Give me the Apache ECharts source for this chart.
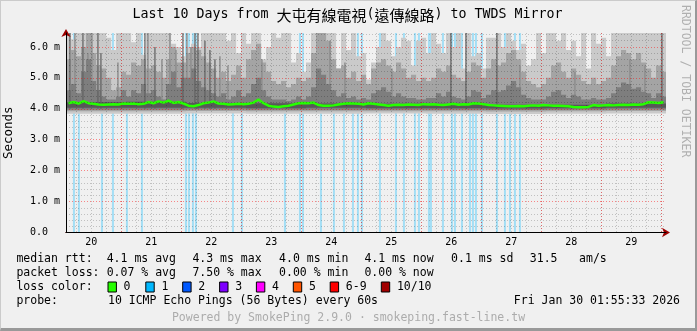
<!DOCTYPE html>
<html><head><meta charset="utf-8">
<script src="https://cdn.jsdelivr.net/npm/echarts@6/dist/echarts.min.js"></script>
<style>
html,body{margin:0;padding:0;background:#f0f0f0;}
#wrap{position:relative;width:697px;height:331px;box-sizing:border-box;background:#f0f0f0;border-top:1px solid #cbcbcb;border-left:1px solid #cbcbcb;border-right:2px solid #999;border-bottom:3px solid #999;overflow:hidden;}
#chart{position:absolute;left:-1px;top:-1px;width:697px;height:331px;}
</style></head><body><div id="wrap"><div id="chart"></div></div>
<script>
// ---- time base: hours since 2026-01-20 00:00, graph starts Jan 20 01:55:33 ----
const START_HOUR = 1 + 55/60 + 33/3600;
const SPAN_HOURS = 240;
const BIN_HOURS = 2;

const dayLabels = ['20','21','22','23','24','25','26','27','28','29'];
const dayLabelHours = [12,36,60,84,108,132,156,180,204,228];

// median rtt (ms) per 2h bin
const medianRtt = [
 4.18,4.22,4.17,4.25,4.18,4.16,4.14,4.13,4.14,4.15,4.14,4.17,
 4.16,4.17,4.15,4.16,4.22,4.18,4.24,4.20,4.26,4.19,4.22,4.17,
 4.10,4.08,4.12,4.18,4.20,4.24,4.17,4.16,4.14,4.15,4.16,4.15,
 4.16,4.20,4.30,4.18,4.10,4.07,4.06,4.08,4.10,4.14,4.18,4.19,
 4.18,4.20,4.12,4.10,4.10,4.11,4.14,4.16,4.18,4.17,4.16,4.14,
 4.18,4.16,4.14,4.12,4.10,4.12,4.13,4.12,4.14,4.13,4.12,4.15,
 4.14,4.15,4.13,4.12,4.14,4.16,4.13,4.15,4.14,4.18,4.17,4.15,
 4.12,4.11,4.10,4.09,4.08,4.08,4.09,4.08,4.10,4.11,4.10,4.12,
 4.11,4.10,4.10,4.09,4.08,4.06,4.05,4.05,4.06,4.12,4.10,4.11,
 4.12,4.11,4.12,4.13,4.12,4.14,4.13,4.15,4.21,4.20,4.19,4.21];

// smoke: max ping (ping 10) per bin
const smokeTop1 = [
 6.45,6.25,6.45,6.45,6.45,6.45,6.45,6.45,6.3,5.9,6.45,6.45,
 6.45,6.15,6.45,5.75,6.45,6.45,6.45,6.45,6.45,6.1,6.0,5.7,
 6.0,6.1,6.0,6.45,6.45,6.45,6.45,6.45,6.2,6.45,5.8,6.45,
 6.1,6.45,6.45,5.6,6.0,6.45,6.3,6.45,6.45,5.5,5.8,5.2,
 5.5,6.45,6.45,6.45,6.45,6.45,5.3,6.45,5.9,6.45,5.7,5.8,
 4.95,5.5,6.0,6.45,6.2,5.7,6.0,6.3,6.2,5.4,6.2,6.3,
 5.8,6.45,6.1,5.8,6.45,6.0,6.45,5.3,6.45,5.7,5.8,5.3,
 6.3,6.3,6.45,6.0,6.45,6.2,5.9,6.1,5.4,5.6,6.45,5.8,
 6.45,6.45,6.2,6.45,5.9,6.2,5.7,6.45,5.3,6.45,6.1,6.3,
 5.7,6.45,6.45,6.45,6.45,6.45,6.45,6.45,6.45,6.45,6.45,6.45];
// ping 9
const smokeTop2 = [
 5.6,5.9,5.7,6.0,6.45,5.8,5.4,5.3,5.0,4.6,4.7,5.2,
 5.1,5.5,5.4,5.6,5.3,5.4,5.2,5.0,5.6,6.0,5.5,5.5,
 5.8,6.0,5.9,5.7,5.5,5.3,5.0,5.2,4.9,5.1,5.4,5.0,
 5.6,5.9,6.1,5.5,5.2,4.9,4.8,4.9,4.7,4.8,5.0,4.9,
 5.0,5.8,6.45,6.45,6.2,5.6,5.3,5.4,5.0,5.2,4.9,5.1,
 4.8,5.3,5.5,5.6,5.4,5.2,5.5,5.3,5.0,5.1,4.9,5.0,
 4.9,5.0,5.3,5.2,5.4,5.1,5.0,4.9,5.2,5.5,5.4,5.0,
 5.3,5.6,5.4,5.5,5.8,5.9,5.6,5.2,4.9,4.8,4.7,4.8,
 5.0,5.4,5.5,5.2,5.0,5.3,5.1,4.9,4.8,5.0,4.8,4.9,
 5.0,5.4,5.7,5.9,5.8,5.6,5.8,5.5,5.3,5.0,5.4,5.2];
// ping 8
const smokeTop3 = [
 4.6,4.8,4.5,5.2,5.6,4.9,4.6,4.4,4.3,4.3,4.4,4.6,
 4.4,4.6,4.5,4.8,4.5,4.6,4.4,4.3,4.8,5.2,4.7,5.0,
 5.0,5.3,4.9,4.7,4.6,4.5,4.4,4.5,4.3,4.4,4.6,4.4,
 4.5,4.8,5.0,4.6,4.4,4.3,4.3,4.3,4.25,4.3,4.4,4.3,
 4.4,4.7,5.3,5.1,4.8,4.6,4.4,4.5,4.35,4.4,4.3,4.35,
 4.3,4.5,4.6,4.7,4.55,4.4,4.5,4.4,4.35,4.35,4.3,4.3,
 4.35,4.35,4.5,4.4,4.55,4.4,4.35,4.3,4.4,4.6,4.55,4.35,
 4.45,4.6,4.55,4.6,4.75,4.9,4.7,4.45,4.35,4.3,4.3,4.3,
 4.4,4.55,4.6,4.45,4.35,4.45,4.4,4.3,4.3,4.35,4.3,4.3,
 4.35,4.5,4.7,4.85,4.8,4.65,4.7,4.55,4.5,4.35,4.5,4.4];
// per-day (24h from start) lower pings and inner band
const smokeBottom1Daily = [3.84,3.84,3.85,3.84,3.84,3.85,3.84,3.83,3.84,3.85];
const smokeBottom2Daily = [3.92,3.92,3.93,3.92,3.92,3.92,3.92,3.91,3.92,3.93];
const smokeBottom3Daily = [3.97,3.97,3.98,3.97,3.97,3.97,3.97,3.96,3.97,3.98];
const smokeBottom4Daily = [4.03,4.03,4.03,4.02,4.03,4.02,4.02,4.01,4.02,4.03];
const smokeTop4Daily    = [4.21,4.23,4.19,4.18,4.17,4.16,4.16,4.13,4.13,4.17];

// narrow dark smoke spikes (hour, top ms)
const spikeHours = [3.5,8.7,14.7,15.9,33.5,37.5,48.7,53.5,54.7,57.5,59.5,61.5,155.9,161.9,174.3,240.3];
const spikeTops  = [6.45,6.45,6.45,5.8,6.45,6.0,6.45,6.45,6.45,6.2,5.9,5.6,6.45,6.45,6.45,6.45];
// narrow medium-grey smoke spikes
const spike2Hours = [5.5,10.7,12.3,22.7,34.7,40.3,43.5,45.9,50.3,51.9,63.5,66.7,80.3,107.5,113.5,132.3,183.5,205.5,227.5,233.5];
const spike2Tops  = [6.45,5.8,6.45,5.5,6.45,5.6,6.45,5.9,6.45,6.0,5.7,5.4,5.6,6.2,5.5,5.3,5.4,5.2,5.6,5.4];

// times with 1/10 packet loss (hours)
const lossHours = [5.1,7.1,16.3,20.7,26.3,32.3,49.9,51.1,52.7,53.9,68.7,72.3,89.5,95.5,96.7,
 103.9,109.1,113.1,116.7,118.7,120.3,127.5,133.9,137.1,141.5,143.1,147.1,147.9,152.7,156.3,
 157.5,160.3,163.5,164.7,165.9,168.3,174.3,177.5,179.5,181.5,183.5];

const Y_MAX = 6.45;
const lossColors = ['#26ff00','#00b8ff','#0059ff','#7e00ff','#ff00ff','#ff5500','#ff0000','#a10000'];
const lossNames = ['0','1','2','3','4','5','6-9','10/10'];

const MONO = 'DejaVu Sans Mono';
const binStart = i => START_HOUR + i * BIN_HOURS;
const dayOf = i => Math.min(9, Math.floor(i * BIN_HOURS / 24));

function rectSeries(data, color, z) {
  return {
    type: 'custom', z, silent: true, clip: true, animation: false,
    xAxisIndex: 0, yAxisIndex: 0,
    encode: { x: [0, 1], y: [2, 3] },
    data,
    renderItem: (p, api) => {
      const a = api.coord([api.value(0), api.value(3)]);
      const b = api.coord([api.value(1), api.value(2)]);
      return { type: 'rect', shape: { x: a[0], y: a[1], width: b[0] - a[0], height: b[1] - a[1] }, style: { fill: color } };
    }
  };
}
function band(lowOf, highOf, n, color, z) {
  const d = [];
  for (let i = 0; i < n; i++) d.push([binStart(i), binStart(i + 1) + 0.05, lowOf(i), highOf(i)]);
  return rectSeries(d, color, z);
}
const N = medianRtt.length;

const series = [
  rectSeries(lossHours.map(h => [h - 0.4, h + 0.4, 0, Y_MAX]), '#a3def5', 1),
  band(i => smokeBottom1Daily[dayOf(i)], i => smokeTop1[i], N, '#cacaca', 2),
  band(i => smokeBottom2Daily[dayOf(i)], i => smokeTop2[i], N, '#a4a4a4', 2),
  rectSeries(spike2Hours.map((h, k) => [h - 0.3, h + 0.3, 4.0, spike2Tops[k]]), '#8e8e8e', 2),
  band(i => smokeBottom3Daily[dayOf(i)], i => smokeTop3[i], N, '#7e7e7e', 2),
  rectSeries(spikeHours.map((h, k) => [h - 0.25, h + 0.25, 4.0, spikeTops[k]]), '#626262', 2),
  band(i => smokeBottom4Daily[dayOf(i)], i => smokeTop4Daily[dayOf(i)], N, '#585858', 2),
  {
    type: 'line', z: 6, silent: true, animation: false, symbol: 'none', showSymbol: false,
    xAxisIndex: 0, yAxisIndex: 0,
    data: medianRtt.map((v, i) => [binStart(i) + BIN_HOURS / 2, v]),
    lineStyle: { color: '#26ff00', width: 2.5 }
  }
];

const gridRed = 'rgba(255,0,0,0.45)';
const gridGrey = 'rgba(0,0,0,0.2)';
const arrowRed = '#9b0000';

// legend text rows
const legendRows = [
  { y: 259, items: [[16.4,'median rtt:'],[106.7,'4.1 ms avg'],[192.4,'4.3 ms max'],[279.1,'4.0 ms min'],[364.4,'4.1 ms now'],[451.1,'0.1 ms sd'],[529.8,'31.5'],[579.1,'am/s']] },
  { y: 273.3, items: [[16.4,'packet loss:'],[106.7,'0.07 % avg'],[192.4,'7.50 % max'],[279.1,'0.00 % min'],[364.4,'0.00 % now']] },
  { y: 287.3, items: [[16.4,'loss color:']] },
  { y: 301.3, items: [[16.4,'probe:'],[108,'10 ICMP Echo Pings (56 Bytes) every 60s']] }
];
const boxX = [108,145.8,182.7,219.6,256.4,293.3,330.2,381.3];
const graphic = [];
const textStyle = (t, align) => ({ text: t, fill: '#000', font: '11.5px "' + MONO + '"', textAlign: align, textVerticalAlign: 'middle', align: align, verticalAlign: 'middle' });
legendRows.forEach(r => r.items.forEach(([x, t]) => graphic.push({ type: 'text', x, y: r.y, silent: true, style: textStyle(t, 'left') })));
boxX.forEach((x, k) => {
  graphic.push({ type: 'rect', silent: true, shape: { x: x, y: 282, width: 8.4, height: 10 }, style: { fill: lossColors[k], stroke: '#000', lineWidth: 1 } });
  graphic.push({ type: 'text', silent: true, x: x + 15.6, y: 287.3, style: textStyle(lossNames[k], 'left') });
});
graphic.push({ type: 'text', silent: true, x: 680, y: 301.3, style: textStyle('Fri Jan 30 01:55:33 2026', 'right') });
graphic.push({ type: 'text', silent: true, x: 348.5, y: 318.3,
  style: Object.assign(textStyle('Powered by SmokePing 2.9.0 \u00b7 smokeping.fast-line.tw', 'center'), { fill: '#acacac' }) });
graphic.push({ type: 'text', silent: true, x: 685, y: 5, rotation: -Math.PI / 2,
  style: Object.assign(textStyle('RRDTOOL / TOBI OETIKER', 'left'), { fill: '#b0b0b0' }) });
graphic.push({ type: 'text', silent: true, x: 347.5, y: 15,
  style: {
    text: '{a|Last 10 Days from }{b|大屯有線電視}{a|(}{b|遠傳線路}{a|) to TWDS Mirror}',
    rich: { a: { fontFamily: MONO, fontSize: 13.3, fill: '#000', color: '#000' }, b: { fontFamily: 'Noto Sans CJK TC', fontSize: 15, fill: '#000', color: '#000' } },
    textAlign: 'center', textVerticalAlign: 'middle', align: 'center', verticalAlign: 'middle', fill: '#000'
  } });

// second grid spans whole calendar days (00:00 Jan 20 .. 00:00 Jan 30) for the day / 6-hour grid lines
const PX_PER_HOUR = 600 / SPAN_HOURS;
const gridLeft2 = 66 - START_HOUR * PX_PER_HOUR;
const gridRight2 = 697 - gridLeft2 - SPAN_HOURS * PX_PER_HOUR;

const hiddenParts = { axisLabel: { show: false }, axisTick: { show: false }, splitLine: { show: false } };

const option = {
  animation: false,
  backgroundColor: 'transparent',
  grid: [
    { left: 66, right: 31, top: 33, bottom: 98.5, containLabel: false, outerBoundsMode: 'none' },
    { left: gridLeft2, right: gridRight2, top: 33, bottom: 98.5, containLabel: false, outerBoundsMode: 'none' }
  ],
  xAxis: [
    {
      type: 'value', gridIndex: 0, min: START_HOUR, max: START_HOUR + SPAN_HOURS, z: 7, position: 'bottom',
      axisLine: { show: true, lineStyle: { color: '#000', width: 1 } },
      axisTick: { show: false },
      axisLabel: { customValues: dayLabelHours, color: '#000', fontFamily: MONO, fontSize: 10, margin: 5,
        formatter: v => { const k = dayLabelHours.indexOf(Math.round(v)); return k >= 0 ? dayLabels[k] : ''; } },
      splitLine: { show: false }
    },
    {
      type: 'value', gridIndex: 1, min: 0, max: SPAN_HOURS, interval: 6, z: 4,
      axisLine: { show: false }, axisLabel: { show: false }, axisTick: { show: false },
      splitLine: { show: true, showMinLine: false, showMaxLine: true, lineStyle: { color: gridGrey, width: 1, type: [1, 2] } }
    },
    {
      type: 'value', gridIndex: 1, min: 0, max: SPAN_HOURS, interval: 24, z: 5,
      axisLine: { show: false }, axisLabel: { show: false }, axisTick: { show: false },
      splitLine: { show: true, showMinLine: false, showMaxLine: true, lineStyle: { color: gridRed, width: 1, type: [1, 2] } }
    },
    Object.assign({
      type: 'value', gridIndex: 0, min: START_HOUR, max: START_HOUR + SPAN_HOURS, z: 6.5, position: 'bottom',
      axisLine: { show: true, lineStyle: { color: arrowRed, width: 1 }, symbol: ['none', 'arrow'], symbolSize: [7, 8], symbolOffset: [0, 4] }
    }, hiddenParts)
  ],
  yAxis: [
    {
      type: 'value', gridIndex: 0, min: 0, max: Y_MAX, interval: 1, z: 7, position: 'left',
      axisLine: { show: true, lineStyle: { color: '#000', width: 1 } },
      axisTick: { show: false },
      axisLabel: { color: '#000', fontFamily: MONO, fontSize: 10, margin: 6,
        formatter: v => (Math.abs(v - Math.round(v)) > 1e-6 ? '' : (v === 0 ? '0.0  ' : v.toFixed(1) + ' m')) },
      splitLine: { show: true, showMinLine: false, showMaxLine: false, lineStyle: { color: gridRed, width: 1, type: [1, 2] } },
      minorTick: { show: false, splitNumber: 5 },
      minorSplitLine: { show: true, lineStyle: { color: gridGrey, width: 1, type: [1, 2] } },
      name: 'Seconds', nameLocation: 'middle', nameGap: 51, nameRotate: 90,
      nameTextStyle: { color: '#000', fontFamily: MONO, fontSize: 12.5 }
    },
    { type: 'value', gridIndex: 1, min: 0, max: Y_MAX, show: false, splitLine: { show: false } },
    Object.assign({
      type: 'value', gridIndex: 0, min: 0, max: Y_MAX, z: 6.5, position: 'left', offset: 0,
      axisLine: { show: true, lineStyle: { color: arrowRed, width: 1 }, symbol: ['none', 'arrow'], symbolSize: [7, 8], symbolOffset: [0, 4] }
    }, hiddenParts)
  ],
  series,
  graphic
};
const chart = echarts.init(document.getElementById('chart'));
chart.setOption(option);
</script></body></html>
